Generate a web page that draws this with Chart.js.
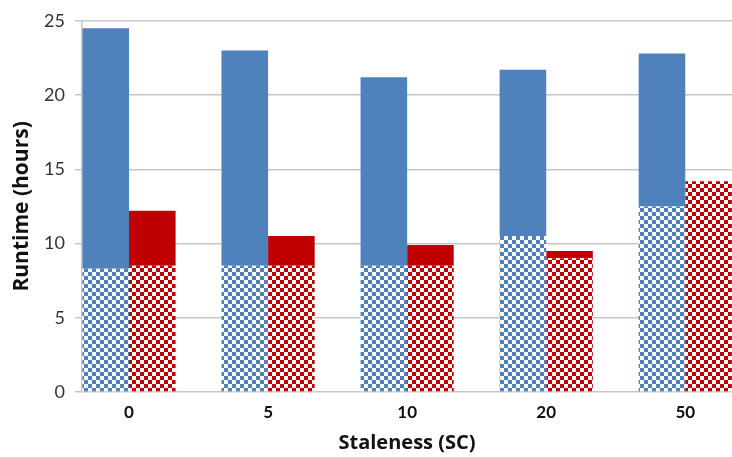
<!DOCTYPE html>
<html lang="en">
<head>
  <meta charset="UTF-8">
  <title>Runtime vs staleness</title>
  <script src="https://cdn.jsdelivr.net/npm/chart.js"></script>
  <style>
    html, body { margin: 0; padding: 0; background: #fff; }
    #wrap { width: 732px; height: 457px; }
  </style>
</head>
<body>
  <div id="wrap"><canvas id="runtime"></canvas></div>
  <script>
    // staleness settings on the x axis
    const staleness = ['0', '5', '10', '20', '50'];
    // blue series: checkered lower part and full bar height (hours)
    const blueBase = [8.3, 8.5, 8.5, 10.5, 12.5];
    const blueTotal = [24.5, 23.0, 21.2, 21.7, 22.8];
    // red series: checkered lower part and full bar height (hours)
    const redBase = [8.5, 8.5, 8.5, 9.0, 14.2];
    const redTotal = [12.2, 10.5, 9.9, 9.5, 14.2];
    const yTicks = [0, 5, 10, 15, 20, 25];

    const BLUE = '#4f81bd';
    const RED = '#c00000';

    function checker(color) {
      const c = document.createElement('canvas');
      c.width = 8; c.height = 8;
      const g = c.getContext('2d');
      g.fillStyle = '#ffffff';
      g.fillRect(0, 0, 8, 8);
      g.fillStyle = color;
      g.fillRect(0, 0, 4, 4);
      g.fillRect(4, 4, 4, 4);
      return g.createPattern(c, 'repeat');
    }

    const pts = arr => arr.map((v, i) => ({ x: i, y: v }));
    const diff = (a, b) => a.map((v, i) => +(v - b[i]).toFixed(2));

    const ctx = document.getElementById('runtime').getContext('2d');
    new Chart(ctx, {
      type: 'bar',
      data: {
        datasets: [
          { data: pts(blueBase), backgroundColor: checker(BLUE), stack: 'blue' },
          { data: pts(diff(blueTotal, blueBase)), backgroundColor: BLUE, stack: 'blue' },
          { data: pts(redBase), backgroundColor: checker(RED), stack: 'red' },
          { data: pts(diff(redTotal, redBase)), backgroundColor: RED, stack: 'red' }
        ]
      },
      options: {
        responsive: true,
        maintainAspectRatio: false,
        animation: false,
        barPercentage: 1,
        categoryPercentage: 0.67,
        layout: { padding: { left: 2, top: 8, right: 0, bottom: 2 } },
        plugins: { legend: { display: false }, tooltip: { enabled: false } },
        scales: {
          x: {
            type: 'linear',
            stacked: true,
            min: -0.338,
            max: 4.336,
            offset: false,
            grid: { display: false },
            border: { display: false },
            afterBuildTicks: s => { s.ticks = staleness.map((_, i) => ({ value: i })); },
            afterFit: s => { s.height = 63; },
            ticks: {
              padding: 2,
              callback: v => staleness[v],
              color: '#111',
              font: { family: 'Lato', size: 17, weight: 'bold' }
            },
            title: {
              display: true,
              text: 'Staleness (SC)',
              color: '#111',
              padding: { top: 2, bottom: 0 },
              font: { family: 'Open Sans', size: 20, weight: 'bold' }
            }
          },
          y: {
            stacked: true,
            min: 0,
            max: 25,
            afterBuildTicks: s => { s.ticks = yTicks.map(v => ({ value: v })); },
            afterFit: s => { s.width = 80; },
            grid: { color: '#c6c6c6', lineWidth: 1.5, tickLength: 7 },
            border: { display: true, color: '#c6c6c6', width: 1.5 },
            ticks: {
              padding: 10,
              color: '#333',
              font: { family: 'Lato', size: 18 }
            },
            title: {
              display: true,
              text: 'Runtime (hours)',
              color: '#111',
              padding: { top: 7, bottom: 0 },
              font: { family: 'Open Sans', size: 21, weight: 'bold' }
            }
          }
        }
      }
    });
  </script>
</body>
</html>
